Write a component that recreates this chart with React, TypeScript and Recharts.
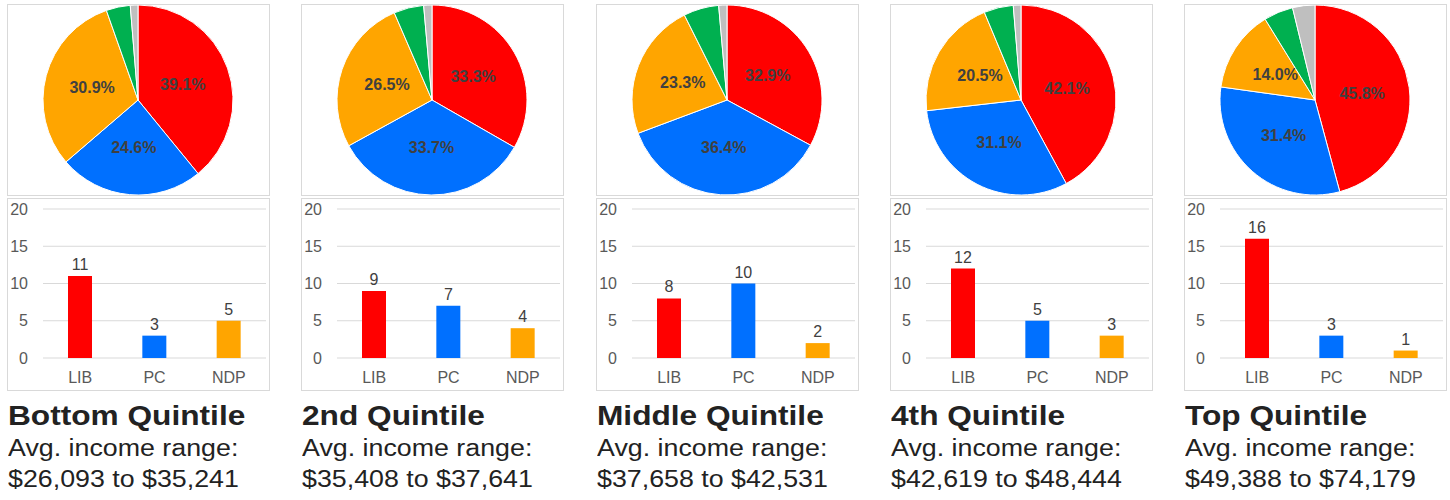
import React from 'react';
import { PieChart, Pie, Cell, BarChart, Bar, XAxis, YAxis, CartesianGrid, LabelList } from 'recharts';

const QUINTILES = ['Bottom Quintile', '2nd Quintile', 'Middle Quintile', '4th Quintile', 'Top Quintile'];
const INCOME_RANGES = [
  '$26,093 to $35,241',
  '$35,408 to $37,641',
  '$37,658 to $42,531',
  '$42,619 to $48,444',
  '$49,388 to $74,179',
];

// vote share (%) per quintile
const PARTIES = ['LIB', 'PC', 'NDP', 'GRN', 'OTH'];
const LIB_SHARE = [39.1, 33.3, 32.9, 42.1, 45.8];
const PC_SHARE = [24.6, 33.7, 36.4, 31.1, 31.4];
const NDP_SHARE = [30.9, 26.5, 23.3, 20.5, 14.0];
const GRN_SHARE = [4.1, 5.1, 6.0, 5.0, 5.0];
const OTH_SHARE = [1.3, 1.4, 1.4, 1.3, 3.8];

// seats won per quintile
const SEAT_PARTIES = ['LIB', 'PC', 'NDP'];
const LIB_SEATS = [11, 9, 8, 12, 16];
const PC_SEATS = [3, 7, 10, 5, 3];
const NDP_SEATS = [5, 4, 2, 3, 1];
const Y_TICKS = [0, 5, 10, 15, 20];

const PARTY_COLORS = ['#ff0000', '#0070ff', '#ffa500', '#00b050', '#bfbfbf'];
const FONT = '"Liberation Sans", Arial, sans-serif';
const RAD = Math.PI / 180;

const renderPieLabel = (props: any) => {
  const { cx, cy, midAngle, outerRadius, value, index } = props;
  if (index > 2) return null;
  const r = outerRadius * 0.5;
  const x = cx + r * Math.cos(-midAngle * RAD);
  const y = cy + r * Math.sin(-midAngle * RAD);
  return (
    <text x={x} y={y} textAnchor="middle" dominantBaseline="central" fill="#404040" fontSize={16} fontWeight="bold" fontFamily={FONT}>
      {value.toFixed(1)}%
    </text>
  );
};

const boxStyle: React.CSSProperties = {
  position: 'absolute',
  left: 0,
  width: 263,
  boxSizing: 'border-box',
  border: '1px solid #d9d9d9',
  background: '#fff',
};

const Panel = ({ i }: { i: number }) => {
  const shares = [LIB_SHARE[i], PC_SHARE[i], NDP_SHARE[i], GRN_SHARE[i], OTH_SHARE[i]];
  const pieData = PARTIES.map((p, k) => ({ party: p, share: shares[k] }));
  const seats = [LIB_SEATS[i], PC_SEATS[i], NDP_SEATS[i]];
  const barData = SEAT_PARTIES.map((p, k) => ({ party: p, seats: seats[k] }));
  const left = Math.round(7 + i * 294.25);

  return (
    <div style={{ position: 'absolute', left, top: 0, width: 290, height: 500 }}>
      <div style={{ ...boxStyle, top: 4, height: 192 }}>
        <PieChart width={261} height={190} margin={{ top: 0, right: 0, bottom: 0, left: 0 }}>
          <Pie
            data={pieData}
            dataKey="share"
            nameKey="party"
            cx={130}
            cy={95}
            outerRadius={95}
            startAngle={90}
            endAngle={-270}
            stroke="#fff"
            strokeWidth={1}
            labelLine={false}
            label={renderPieLabel}
            isAnimationActive={false}
          >
            {pieData.map((d, k) => (
              <Cell key={d.party} fill={PARTY_COLORS[k]} />
            ))}
          </Pie>
        </PieChart>
      </div>
      <div style={{ ...boxStyle, top: 198, height: 193 }}>
        <BarChart width={261} height={191} data={barData} margin={{ top: 10, right: 3, bottom: 0, left: 0 }}>
          <CartesianGrid vertical={false} stroke="#d9d9d9" />
          <XAxis
            dataKey="party"
            axisLine={false}
            tickLine={false}
            height={32}
            tickMargin={8}
            tick={{ fill: '#595959', fontSize: 16, fontFamily: FONT }}
          />
          <YAxis
            domain={[0, 20]}
            ticks={Y_TICKS}
            width={35}
            axisLine={false}
            tickLine={false}
            tickMargin={9}
            tick={{ fill: '#595959', fontSize: 16, fontFamily: FONT }}
          />
          <Bar dataKey="seats" barSize={24} isAnimationActive={false}>
            {barData.map((d, k) => (
              <Cell key={d.party} fill={PARTY_COLORS[k]} />
            ))}
            <LabelList dataKey="seats" position="top" offset={6} fill="#404040" fontSize={16} fontFamily={FONT} />
          </Bar>
        </BarChart>
      </div>
      <div
        style={{
          position: 'absolute', left: 1, top: 400, lineHeight: '32px', fontSize: 28, fontWeight: 'bold',
          color: '#222', whiteSpace: 'nowrap', transform: 'scaleX(1.13)', transformOrigin: 'left',
        }}
      >
        {QUINTILES[i]}
      </div>
      <div
        style={{
          position: 'absolute', left: 1, top: 433, lineHeight: '31px', fontSize: 23.5,
          color: '#222', whiteSpace: 'nowrap', transform: 'scaleX(1.14)', transformOrigin: 'left',
        }}
      >
        <div>Avg. income range:</div>
        <div>{INCOME_RANGES[i]}</div>
      </div>
    </div>
  );
};

export default function App() {
  return (
    <div style={{ position: 'absolute', left: 0, top: 0, width: 1450, height: 500, background: '#fff', fontFamily: FONT, overflow: 'hidden' }}>
      {QUINTILES.map((q, i) => (
        <Panel key={q} i={i} />
      ))}
    </div>
  );
}
